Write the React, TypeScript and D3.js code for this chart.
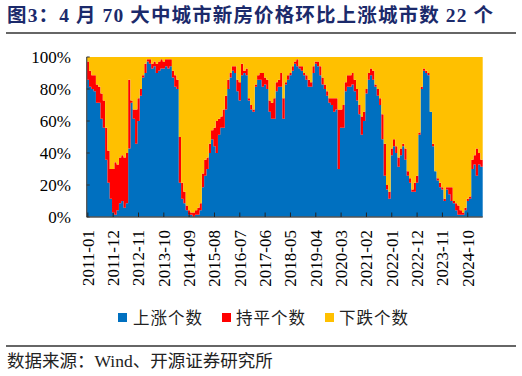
import React from "react";
import * as d3 from "d3";

// 70 大中城市新房价格环比：上涨 / 持平 个数（下跌 = 70 - 上涨 - 持平）
const TOTAL = 70;
const upCounts = [
  60, 57, 56, 55, 50, 50, 43, 39, 25, 15, 8, 2, 1, 3, 6, 7, 4, 6, 30, 50,
  43, 32, 42, 53, 61, 63, 68, 67, 65, 66, 63, 64, 65, 65, 66, 65, 66, 61, 57, 56,
  15, 8, 6, 3, 1, 1, 0, 1, 1, 3, 13, 18, 21, 28, 34, 31, 28, 36, 39, 39,
  47, 56, 61, 64, 63, 55, 51, 62, 63, 62, 51, 47, 46, 57, 60, 60, 57, 58, 56, 46,
  43, 43, 55, 57, 57, 43, 58, 60, 62, 64, 67, 66, 65, 64, 62, 60, 57, 57, 63, 67,
  66, 62, 58, 56, 53, 50, 49, 46, 47, 21, 39, 39, 55, 57, 57, 58, 55, 51, 45, 36,
  42, 54, 60, 62, 60, 57, 53, 49, 34, 18, 12, 8, 27, 31, 28, 22, 27, 31, 25, 18,
  15, 11, 11, 15, 36, 56, 64, 63, 62, 46, 31, 20, 16, 13, 12, 7, 12, 10, 7, 6,
  3, 1, 1, 1, 3, 7, 8, 21, 23, 18, 23, 22,
];
const flatCounts = [
  8, 7, 6, 7, 8, 7, 11, 12, 14, 14, 13, 19, 23, 20, 20, 20, 22, 22, 30, 1,
  4, 15, 10, 3, 1, 4, 1, 2, 2, 2, 4, 4, 4, 3, 3, 4, 3, 3, 5, 4,
  20, 7, 5, 2, 2, 1, 2, 2, 3, 3, 6, 7, 5, 4, 4, 8, 14, 7, 5, 8,
  6, 4, 2, 2, 3, 5, 8, 5, 1, 3, 1, 2, 1, 1, 2, 3, 6, 3, 4, 5,
  7, 9, 4, 3, 6, 9, 1, 2, 1, 2, 1, 3, 1, 2, 1, 2, 3, 2, 3, 1,
  2, 4, 3, 2, 2, 2, 3, 6, 5, 26, 8, 10, 4, 5, 5, 5, 5, 5, 4, 8,
  4, 2, 3, 3, 4, 1, 3, 3, 11, 14, 2, 3, 3, 3, 3, 4, 3, 1, 5, 2,
  2, 1, 4, 3, 1, 1, 1, 1, 1, 0, 1, 0, 1, 2, 1, 1, 1, 3, 6, 1,
  3, 4, 2, 1, 1, 1, 1, 4, 4, 12, 5, 3,
];
const months = d3
  .timeMonth.range(new Date(2011, 0, 1), new Date(2025, 4, 1))
  .map(d3.timeFormat("%Y-%m"));
const tickLabels = [
  "2011-01", "2011-12", "2012-11", "2013-10", "2014-09", "2015-08", "2016-07",
  "2017-06", "2018-05", "2019-04", "2020-03", "2021-02", "2022-01", "2022-12",
  "2023-11", "2024-10",
];
const yTicks = [0, 0.2, 0.4, 0.6, 0.8, 1];
const seriesNames = ["上涨个数", "持平个数", "下跌个数"];
const seriesKeys = ["up", "flat", "down"];
const colors = ["#0070C0", "#FF0000", "#FFC000"];

const SERIF = "'Liberation Serif', 'Times New Roman', 'Noto Sans CJK SC', serif";
const CJK = "'Liberation Serif', 'Noto Sans CJK SC', serif";

export default function App() {
  const W = 522, H = 376;
  const left = 86.7, right = 482.7, top = 57, bottom = 217;
  const n = months.length;
  const x = d3.scaleLinear().domain([0, n]).range([left, right]);
  const y = d3.scaleLinear().domain([0, 1]).range([bottom, top]);

  const rows = months.map((m, i) => ({
    i,
    up: upCounts[i] / TOTAL,
    flat: flatCounts[i] / TOTAL,
    down: (TOTAL - upCounts[i] - flatCounts[i]) / TOTAL,
  }));
  const rowsExt = [...rows, { ...rows[n - 1], i: n }];
  const stacked = d3.stack().keys(seriesKeys)(rowsExt as any);
  const area = d3
    .area<any>()
    .x((d) => x(d.data.i))
    .y0((d) => y(d[0]))
    .y1((d) => y(d[1]))
    .curve(d3.curveStepAfter);

  const legendItems = [
    { sx: 118, tx: 133 },
    { sx: 222, tx: 236 },
    { sx: 325, tx: 339 },
  ];

  return (
    <svg
      width={W}
      height={H}
      style={{ position: "absolute", left: 0, top: 0, background: "#fff" }}
    >
      <text
        x={7}
        y={22}
        fontFamily={CJK}
        fontWeight="bold"
        fontSize={19.5}
        fill="#1B2A6B"
        textLength={486}
        lengthAdjust="spacing"
      >
        图3：4 月 70 大中城市新房价格环比上涨城市数 22 个
      </text>
      <line x1={6} x2={516} y1={33} y2={33} stroke="#333" strokeWidth={1.5} />

      {stacked.map((s, k) => (
        <path key={k} d={area(s as any) || ""} fill={colors[k]} stroke="none" />
      ))}

      {/* y axis */}
      <line x1={left} x2={left} y1={top} y2={bottom} stroke="#555" strokeWidth={1.3} />
      {yTicks.map((t) => (
        <g key={t}>
          <line x1={left} x2={left + 3} y1={y(t)} y2={y(t)} stroke="#333" strokeWidth={1} />
          <text
            x={71}
            y={y(t)}
            dy="0.35em"
            textAnchor="end"
            fontFamily={SERIF}
            fontSize={17}
            fill="#000"
          >
            {d3.format(".0%")(t)}
          </text>
        </g>
      ))}

      {/* x axis */}
      <line x1={left} x2={right} y1={bottom} y2={bottom} stroke="#555" strokeWidth={1.5} />
      {tickLabels.map((lab) => {
        const idx = months.indexOf(lab);
        const cx = x(idx + 0.5);
        return (
          <g key={lab}>
            <line x1={cx} x2={cx} y1={bottom} y2={bottom - 4.5} stroke="#222" strokeWidth={1} />
            <text
              transform={`translate(${cx},${230}) rotate(-90)`}
              dy="0.35em"
              textAnchor="end"
              fontFamily={SERIF}
              fontSize={17}
              fill="#000"
            >
              {lab}
            </text>
          </g>
        );
      })}

      {/* legend */}
      {legendItems.map((it, k) => (
        <g key={k}>
          <rect x={it.sx} y={313} width={9} height={9} fill={colors[k]} />
          <text
            x={it.tx}
            y={323.5}
            fontFamily={CJK}
            fontSize={16.5}
            fill="#222"
            textLength={69}
            lengthAdjust="spacing"
          >
            {seriesNames[k]}
          </text>
        </g>
      ))}

      <line x1={6} x2={516} y1={346} y2={346} stroke="#333" strokeWidth={1.3} />
      <text x={7} y={367} fontFamily={CJK} fontSize={17.5} fill="#222">
        数据来源：Wind、开源证券研究所
      </text>
    </svg>
  );
}
